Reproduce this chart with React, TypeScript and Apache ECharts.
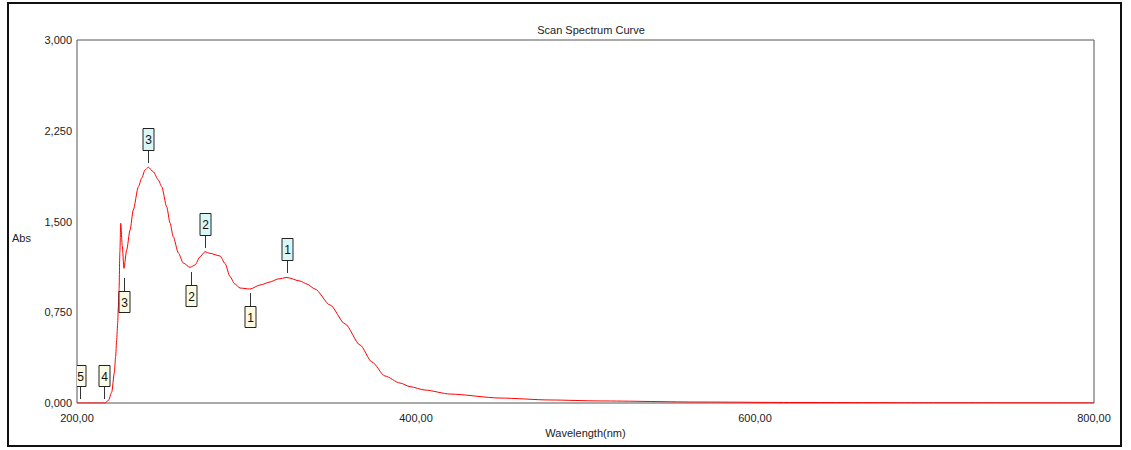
import React, { useEffect, useRef } from "react";
import * as echarts from "echarts";

const wavelength = [
  200, 205, 210, 216.5, 218.5, 220.5, 222.0, 222.8, 223.4, 224.0, 224.4, 224.8, 225.3, 225.8, 226.7,
  227.7, 229.3, 231.3, 233.2, 236.2, 238.2, 240.1, 242.1, 245.0, 248.0, 250.0, 252.9, 254.9, 256.8,
  259.8, 262.7, 266.7, 269.6, 272.6, 275.5, 278.5, 284.4, 287.3, 290.3, 293.0, 296.2, 302.1, 308.0,
  313.9, 318.6, 323.9, 331.6, 335.7, 340.4, 349.3, 358.2, 367.0, 374.0, 381.7, 390.6, 396.5, 405.3,
  420.1, 449.6, 479.1, 508.6, 567.6, 626.5, 700, 800,
];
const absorbance = [
  0, 0, 0, 0, 0.02, 0.09, 0.248, 0.383, 0.521, 0.661, 0.796, 0.934, 1.25, 1.485, 1.3,
  1.113, 1.264, 1.43, 1.595, 1.787, 1.859, 1.926, 1.948, 1.911, 1.843, 1.787, 1.622, 1.488, 1.374,
  1.24, 1.157, 1.121, 1.14, 1.209, 1.25, 1.237, 1.215, 1.154, 1.044, 0.985, 0.95, 0.942, 0.975,
  1.0, 1.025, 1.037, 1.008, 0.983, 0.942, 0.81, 0.653, 0.479, 0.339, 0.223, 0.165, 0.135, 0.107,
  0.074, 0.041, 0.025, 0.017, 0.008, 0.004, 0.002, 0.001,
];

const peakWavelength = [242.1, 275.5, 324.1];
const peakAbs = [1.948, 1.245, 1.039];
const peakLabels = ["3", "2", "1"];

const valleyWavelength = [201.8, 216.1, 227.7, 267.5, 302.1];
const valleyAbs = [0, 0, 1.066, 1.115, 0.94];
const valleyLabels = ["5", "4", "3", "2", "1"];

const yTicks = [0, 0.75, 1.5, 2.25, 3];
const xTicks = [200, 400, 600, 800];

const FONT = "'Liberation Sans', Arial, sans-serif";

function markerRenderer(isPeak: boolean, labels: string[], fill: string) {
  return (params: any, api: any) => {
    const p = api.coord([api.value(0), api.value(1)]);
    const cs = params.coordSys;
    const x = Math.round(p[0]) + 0.5;
    const y = Math.round(p[1]);
    let above = isPeak;
    if (!above && y + 39 > cs.y + cs.height) above = true;
    const dir = above ? -1 : 1;
    const t1 = y + dir * 4;
    const t2 = y + dir * 17;
    const boxH = isPeak ? 22 : 21;
    const boxTop = above ? y - 17 - boxH : y + 17;
    const label = labels[params.dataIndex];
    return {
      type: "group",
      children: [
        {
          type: "line",
          shape: { x1: x, y1: t1, x2: x, y2: t2 },
          style: { stroke: "#333", lineWidth: 1 },
        },
        {
          type: "rect",
          shape: { x: x - 5.5, y: boxTop + 0.5, width: 11, height: boxH },
          style: { fill, stroke: "#222", lineWidth: 1 },
        },
        {
          type: "text",
          style: {
            text: label,
            x: x,
            y: boxTop + boxH / 2 + 1,
            align: "center",
            verticalAlign: "middle",
            fontSize: 12,
            fontFamily: FONT,
            fill: "#111",
          },
        },
      ],
    };
  };
}

export default function App() {
  const ref = useRef<HTMLDivElement>(null);
  useEffect(() => {
    if (!ref.current) return;
    const chart = echarts.init(ref.current, null, { renderer: "svg" });
    const lineData = wavelength.map((w, i) => [w, absorbance[i]]);
    const peakData = peakWavelength.map((w, i) => [w, peakAbs[i]]);
    const valleyData = valleyWavelength.map((w, i) => [w, valleyAbs[i]]);
    chart.setOption({
      animation: false,
      backgroundColor: "#ffffff",
      title: {
        text: "Scan Spectrum Curve",
        left: 586,
        top: 19,
        textAlign: "center",
        textStyle: { fontSize: 11, fontWeight: "normal", color: "#222", fontFamily: FONT },
      },
      grid: {
        left: 77,
        top: 40,
        right: 37,
        bottom: 47,
        show: true,
        borderColor: "#555",
        borderWidth: 1,
        backgroundColor: "transparent",
      },
      xAxis: {
        type: "value",
        min: xTicks[0],
        max: xTicks[xTicks.length - 1],
        interval: 200,
        name: "Wavelength(nm)",
        nameLocation: "middle",
        nameGap: 23,
        nameTextStyle: { fontSize: 11, color: "#222", fontFamily: FONT },
        axisLine: { show: false },
        axisTick: { show: false },
        splitLine: { show: false },
        axisLabel: {
          margin: 9,
          fontSize: 11,
          color: "#222",
          fontFamily: FONT,
          formatter: (v: number) => v.toFixed(2).replace(".", ","),
        },
      },
      yAxis: {
        type: "value",
        min: yTicks[0],
        max: yTicks[yTicks.length - 1],
        interval: 0.75,
        axisLine: { show: false },
        axisTick: { show: false },
        splitLine: { show: false },
        axisLabel: {
          margin: 5,
          fontSize: 11,
          color: "#222",
          fontFamily: FONT,
          formatter: (v: number) => v.toFixed(3).replace(".", ","),
        },
      },
      graphic: [
        {
          type: "rect",
          shape: { x: 8, y: 3, width: 1113, height: 443 },
          style: { fill: "none", stroke: "#111", lineWidth: 2 },
          silent: true,
        },
        {
          type: "text",
          style: {
            text: "Abs",
            x: 12,
            y: 238,
            verticalAlign: "middle",
            fontSize: 11,
            fontFamily: FONT,
            fill: "#222",
          },
        },
      ],
      series: [
        {
          type: "line",
          data: lineData,
          showSymbol: false,
          smooth: 0.25,
          smoothMonotone: "x",
          lineStyle: { color: "#ff0000", width: 1 },
          itemStyle: { color: "#ff0000" },
          z: 3,
        },
        {
          type: "custom",
          data: peakData,
          clip: true,
          renderItem: markerRenderer(true, peakLabels, "#d9f7f7"),
          z: 4,
        },
        {
          type: "custom",
          data: valleyData,
          clip: true,
          renderItem: markerRenderer(false, valleyLabels, "#fbfbe3"),
          z: 4,
        },
      ],
    });
    return () => chart.dispose();
  }, []);
  return (
    <div
      ref={ref}
      style={{ position: "fixed", left: 0, top: 0, width: 1131, height: 450, background: "#fff" }}
    />
  );
}
